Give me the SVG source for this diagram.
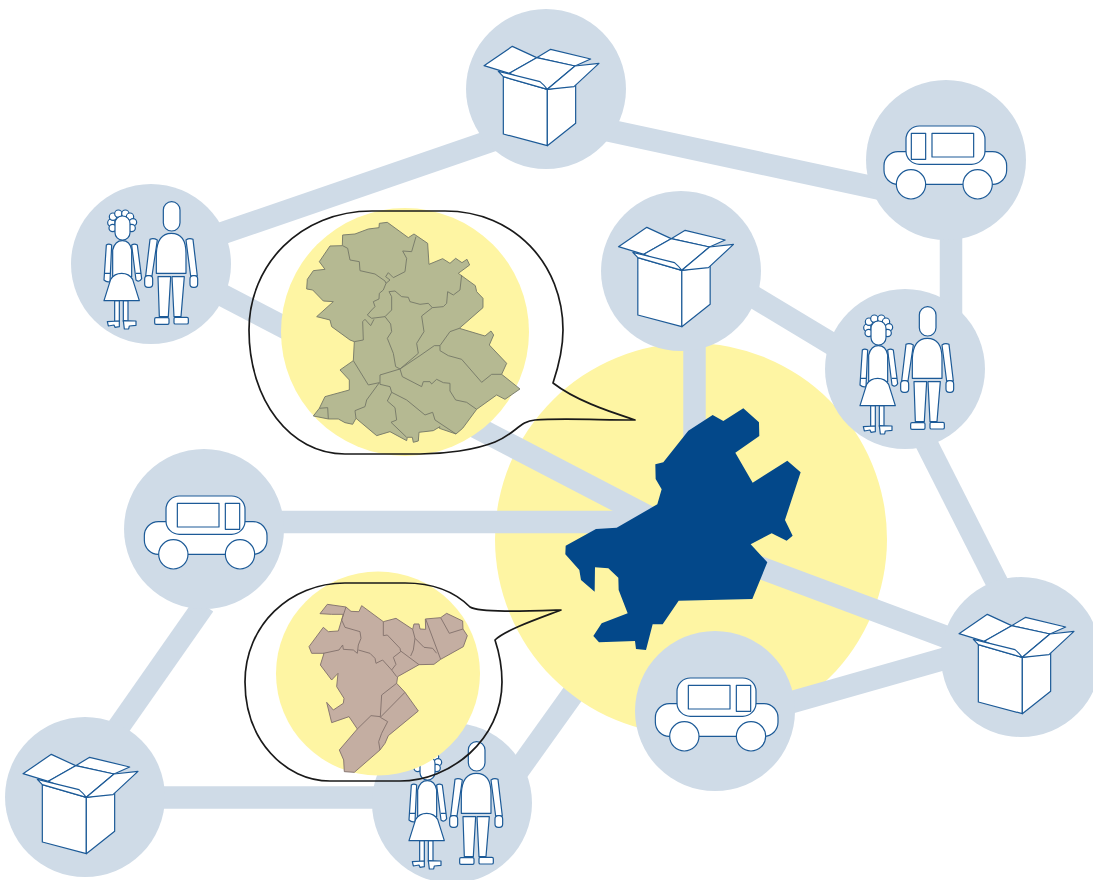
<svg xmlns="http://www.w3.org/2000/svg" xmlns:xlink="http://www.w3.org/1999/xlink" width="1093" height="880" viewBox="0 0 1093 880">
<style>
.bg{fill:#cfdbe7}
.y{fill:#fef5a3}
.c line{stroke:#cfdbe7;stroke-width:22.5;fill:none}
.ic *{fill:#fff;stroke:#1c5a97;stroke-width:3.6;stroke-linejoin:round}
.ic .n{fill:none}
.m1 *{fill:none;stroke:#767a68;stroke-width:2.8;stroke-linejoin:round}
.m1 .f{fill:#b5b992}
.m2 *{fill:none;stroke:#83726d;stroke-width:2.8;stroke-linejoin:round}
.m2 .f{fill:#c4aea2}
.b{fill:none;stroke:#1a1a1a;stroke-width:1.7;stroke-linejoin:round}
</style>
<defs>
<g id="box" class="ic">
<path d="M100,140 L232,178 L232,347 L100,312Z"/>
<path d="M232,178 L317,165 L317,280 L232,347Z"/>
<path d="M42,107 L127,49 L200,83 L118,130Z"/>
<path d="M200,83 L242,58 L362,87 L315,108Z"/>
<path d="M118,130 L200,83 L315,108 L232,178Z"/>
<path d="M315,108 L387,100 L312,170 L232,178Z"/>
<path d="M85,124 L210,155 Q222,165 232,178 L100,140Z"/>
</g>
<g id="car" class="ic">
<rect x="42" y="125" width="368" height="98" rx="42"/>
<rect x="108" y="48" width="237" height="115" rx="40"/>
<rect x="124" y="70" width="43" height="78"/>
<rect x="186" y="70" width="125" height="71"/>
<circle cx="123" cy="223" r="44"/>
<circle cx="323" cy="223" r="44"/>
</g>
<g id="people" class="ic">
<circle cx="94" cy="98" r="11"/><circle cx="98" cy="114" r="11"/><circle cx="99" cy="80" r="11"/><circle cx="115" cy="71" r="11"/><circle cx="136" cy="71" r="11"/><circle cx="150" cy="80" r="11"/><circle cx="159" cy="97" r="11"/><circle cx="155" cy="114" r="11"/>
<rect x="105" y="78" width="45" height="72" rx="22"/>
<path d="M79,165 Q86,160 95,165 L90,275 Q80,278 72,270Z"/>
<path d="M155,165 Q163,160 172,165 L185,266 Q178,278 168,270Z"/>
<path d="M73,250 L90,250 M168,250 L183,250" class="n"/>
<path d="M98,260 L98,180 Q105,152 127,152 Q150,152 155,180 L155,260Z"/>
<rect x="104" y="332" width="14" height="62"/>
<rect x="130" y="332" width="14" height="62"/>
<path d="M72,332 L92,268 Q103,250 125,250 Q147,250 158,268 L178,332Z"/>
<path d="M82,395 L118,393 L118,410 L105,412 L102,405 L85,408Z"/>
<path d="M130,392 L168,393 L168,406 L148,408 L146,417 L133,417Z"/>
<rect x="250" y="35" width="50" height="88" rx="25"/>
<path d="M210,148 Q220,143 232,150 L216,258 L197,258Z"/>
<path d="M318,150 Q328,143 339,148 L352,258 L332,258Z"/>
<rect x="194" y="257" width="24" height="35" rx="10"/>
<rect x="330" y="257" width="23" height="35" rx="10"/>
<path d="M229,250 L229,190 Q232,130 274,130 Q318,130 318,190 L318,250Z"/>
<path d="M234,260 L272,260 L265,380 L238,380Z"/>
<path d="M276,260 L313,260 L303,380 L282,380Z"/>
<rect x="224" y="383" width="43" height="20" rx="4"/>
<rect x="282" y="382" width="43" height="20" rx="4"/>
</g>
</defs>
<g id="connector-under" class="c">
<line x1="452" y1="863" x2="640" y2="600"/>
</g>
<g id="hub-area"><circle class="y" cx="691" cy="539" r="196"/></g>
<g id="connectors" class="c">
<line x1="150" y1="258" x2="546" y2="122"/>
<line x1="546" y1="117" x2="946" y2="203"/>
<line x1="951" y1="160" x2="951" y2="369"/>
<line x1="681" y1="253" x2="905" y2="388"/>
<line x1="694.500" y1="271" x2="694.500" y2="480"/>
<line x1="905" y1="401" x2="1021" y2="630"/>
<line x1="715" y1="724" x2="1021" y2="637"/>
<line x1="700" y1="545" x2="1021" y2="665"/>
<line x1="151" y1="258" x2="691" y2="539"/>
<line x1="204" y1="522" x2="691" y2="522"/>
<line x1="204" y1="605" x2="85" y2="775"/>
<line x1="85" y1="797.500" x2="452" y2="797.500"/>
</g>
<g id="box-top"><circle class="bg" cx="546" cy="89" r="80"/><use xlink:href="#box" href="#box" transform="translate(470,30) scale(.3333)"/></g>
<g id="car-top-right"><circle class="bg" cx="946" cy="160" r="80"/><use xlink:href="#car" href="#car" transform="translate(870,110) scale(.3333)"/></g>
<g id="box-middle"><circle class="bg" cx="681" cy="271" r="80"/><use xlink:href="#box" href="#box" transform="translate(604.500,211) scale(.3333)"/></g>
<g id="people-left"><circle class="bg" cx="151" cy="264" r="80"/><use xlink:href="#people" href="#people" transform="translate(80,190) scale(.3333)"/></g>
<g id="people-right"><circle class="bg" cx="905" cy="369" r="80"/><use xlink:href="#people" href="#people" transform="translate(836,295) scale(.3333)"/></g>
<g id="car-left"><circle class="bg" cx="204" cy="529" r="80"/><use xlink:href="#car" href="#car" transform="translate(281,480) scale(-.3333,.3333)"/></g>
<g id="car-bottom"><circle class="bg" cx="715" cy="711" r="80"/><use xlink:href="#car" href="#car" transform="translate(792,662) scale(-.3333,.3333)"/></g>
<g id="box-right"><circle class="bg" cx="1021" cy="657" r="80"/><use xlink:href="#box" href="#box" transform="translate(945,598) scale(.3333)"/></g>
<g id="box-bottom-left"><circle class="bg" cx="85" cy="797" r="80"/><use xlink:href="#box" href="#box" transform="translate(9,738) scale(.3333)"/></g>
<g id="people-bottom"><circle class="bg" cx="452" cy="803" r="80"/><use xlink:href="#people" href="#people" transform="translate(385,730) scale(.3333)"/></g>
<g id="hub-map">
<polygon transform="translate(550,400) scale(.3333)" fill="#03488a" points="488,45 520,63 580,25 627,67 628,108 556,158 608,248 712,182 752,217 705,360 728,407 710,422 665,400 602,433 652,487 607,597 386,602 338,673 308,673 288,750 258,747 255,723 147,727 130,708 155,670 233,640 206,570 205,533 175,505 135,502 134,575 93,540 88,510 46,463 47,437 138,387 200,383 322,313 335,268 317,237 316,193 340,187 415,92"/>
</g>
<g id="bubble-green">
<circle class="y" cx="405" cy="332" r="124"/>
<g class="m1" transform="translate(280,200) scale(.3333)">
<polygon class="f" points="298,70 322,67 385,113 402,102 443,130 447,193 488,176 510,190 527,175 546,188 561,178 569,195 535,220 586,257 590,275 609,295 609,323 538,385 615,408 633,393 641,405 628,435 680,490 665,523 720,567 675,598 650,585 590,628 548,685 528,702 478,685 480,680 460,692 417,697 415,723 400,727 397,712 382,712 380,722 330,695 290,707 228,655 218,673 195,668 175,657 145,657 100,648 118,625 135,590 208,570 208,540 180,510 220,482 223,425 210,420 155,380 150,360 110,350 160,305 130,303 98,270 80,267 82,238 100,212 135,208 118,185 150,138 187,137 188,105 225,102 265,87 297,83"/>
<polyline points="188,137 203,145 210,180 238,185 240,212 285,222 315,243 318,250 310,270 298,280 297,297 280,305 285,320 275,330 262,345 275,355 315,350 335,330 335,290 327,275 345,273 365,290 385,292 390,305 420,313 445,310 457,323 490,320 500,310 503,275 520,285 540,270 545,225"/>
<polyline points="408,110 395,155 368,153 380,175 375,215 340,233 325,218 317,230 330,240 318,250"/>
<polyline points="315,350 332,372 335,395 322,415 340,460 347,500 360,507"/>
<polyline points="457,323 425,348 432,395 410,430 415,460 360,507"/>
<polyline points="538,385 510,395 480,437 463,437 420,467 360,507 300,525 300,553 330,560 335,577 380,600 435,645 458,637 465,660 528,702"/>
<polyline points="480,437 480,452 505,467 545,478 605,547 635,523 665,523"/>
<polyline points="360,507 367,530 425,560 430,545 450,545 455,552 470,538 490,548 510,550 510,573 527,600 560,607 590,628"/>
<polyline points="220,482 265,555 298,548 260,600 255,620 225,632 228,655"/>
<polyline points="223,425 250,420 248,365 255,358 272,377 282,358"/>
<polyline points="335,577 322,603 345,623 350,660 333,667 380,712"/>
<polyline points="118,625 143,623 145,657"/>
</g>
<path class="b" d="M372,211 L445,211 C515,211 563,265 563,330 C563,350 558,368 553,383 C575,400 605,410 635,420 C600,420 560,418 535,420 C520,421 515,434 495,442 C475,450 445,454 420,454 L345,454 C290,454 249,400 249,330 C249,265 300,211 372,211Z"/>
</g>
<g id="bubble-brown">
<circle class="y" cx="378" cy="673.500" r="102"/>
<g class="m2" transform="translate(270,570) scale(.3333)">
<polygon class="f" points="172,103 228,111 243,124 267,125 275,107 340,155 378,145 428,178 432,162 447,162 450,177 467,178 466,147 512,143 530,130 578,153 579,177 592,197 580,230 512,268 492,283 447,284 383,320 380,340 405,367 445,423 355,497 345,520 330,540 253,607 223,605 221,570 208,540 262,477 237,440 185,458 170,397 190,420 220,400 222,385 200,350 204,310 185,330 151,285 162,250 125,250 117,230 160,172 175,185 205,183 220,133 185,133 150,131"/>
<polyline points="228,111 215,150 225,172 270,185 273,205 265,225 262,250 250,240 220,238 218,225 207,240 160,250"/>
<polyline points="265,240 300,250 315,265 318,280 338,270 365,300 380,320"/>
<polyline points="340,155 340,197 352,195 390,235 392,245 370,262 378,283 365,300"/>
<polyline points="392,243 447,284"/>
<polyline points="428,178 435,205 430,240 422,258"/>
<polyline points="435,205 462,232 488,235 500,250"/>
<polyline points="467,147 512,268"/>
<polyline points="512,143 538,190 579,177"/>
<polyline points="380,340 335,375 331,440 303,437 262,477"/>
<polyline points="405,367 331,442 353,455 335,490 326,515 330,540"/>
</g>
<path class="b" d="M345,583 L405,583 C435,583 455,592 470,607 C480,613 530,611 561,610 C540,618 505,630 495,640 C500,655 502,670 502,682 C502,740 450,781 400,781 L330,781 C285,781 245,740 245,682 C245,625 290,583 345,583Z"/>
</g>
</svg>
